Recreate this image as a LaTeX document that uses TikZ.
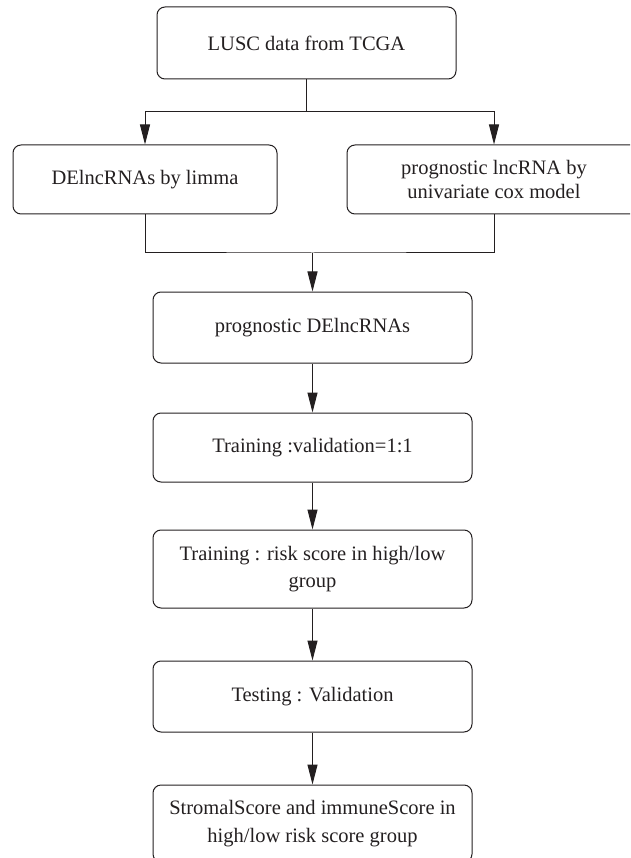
\documentclass[tikz,border=0pt]{standalone}
\usepackage{fontspec}
\setmainfont{Liberation Serif}
\usetikzlibrary{arrows.meta}
\definecolor{ink}{HTML}{231F20}

\begin{document}
\begin{tikzpicture}[x=1pt, y=-1pt,
    box/.style={draw=ink, line width=1pt, rounded corners=8pt, minimum width=319pt,
        align=center, text=ink, font=\fontsize{20.5}{27.5}\selectfont},
    link/.style={draw=ink, line width=1pt},
    arr/.style={link, -{Triangle[length=20pt, width=10pt]}}]
    \useasboundingbox (0,0) rectangle (630,858);
    \clip (0,0) rectangle (630,858);
    \node[box, minimum width=299pt, minimum height=72pt] (tcga) at (306.5,43) {LUSC data from TCGA};
    \node[box, minimum width=264pt, minimum height=69pt] (limma) at (145,179.5) {DElncRNAs by limma};
    \node[box, minimum width=294pt, minimum height=69pt, font=\fontsize{20.5}{24}\selectfont] (cox) at (494,179.5) {prognostic lncRNA by\\univariate cox model};
    \node[box, minimum height=71pt] (prog) at (312.5,327.5) {prognostic DElncRNAs};
    \node[box, minimum height=69pt] (ratio) at (312.5,447.5) {Training :validation=1:1};
    \node[box, minimum height=78pt] (train) at (312.5,569) {Training : risk score in high/low\\group};
    \node[box, minimum height=71pt] (test) at (312.5,696.5) {Testing : Validation};
    \node[box, minimum height=77pt] (immune) at (312.5,823.5) {StromalScore and immuneScore in\\high/low risk score group};
    \coordinate (fork) at (306.5,112);
    \coordinate (join) at (312.5,253);
    \draw[link] (tcga.south) -- (fork);
    \draw[arr] (fork) -| (limma.north);
    \draw[arr] (fork) -| (cox.north);
    \draw[link] (limma.south) |- (join) -| (cox.south);
    \draw[arr] (join) -- (prog.north);
    \draw[arr] (prog) -- (ratio);
    \draw[arr] (ratio) -- (train);
    \draw[arr] (train) -- (test);
    \draw[arr] (test) -- (immune);
\end{tikzpicture}
\end{document}
